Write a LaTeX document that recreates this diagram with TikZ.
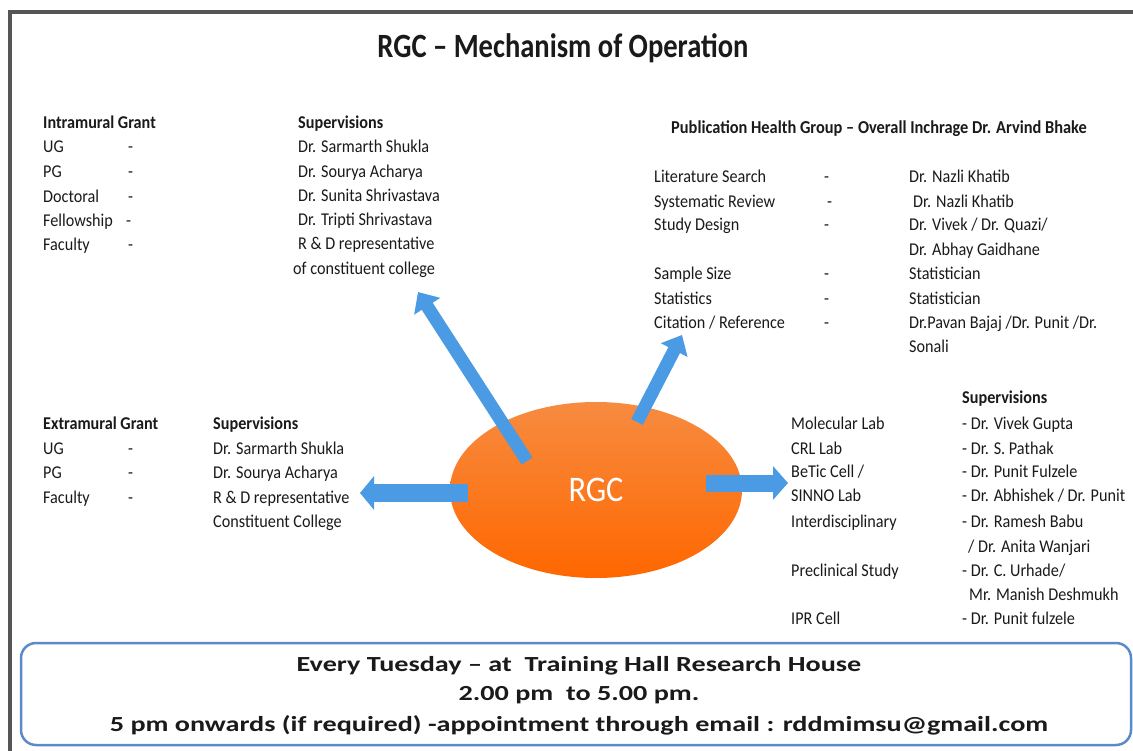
\documentclass[tikz,border=0pt]{standalone}
\usepackage{fontspec}
\setmainfont{Carlito}[FakeStretch=0.9]
\newfontfamily\footfont{Carlito}[FakeStretch=1.31,Ligatures=TeX]
\newfontfamily\titlefont{Carlito}[FakeStretch=0.84,Ligatures=TeX]
\usetikzlibrary{arrows.meta,shapes.geometric}
\definecolor{arrowblue}{HTML}{4A9BE3}
\definecolor{boxblue}{HTML}{5B8AC8}
\definecolor{framegray}{HTML}{555555}
\definecolor{orangeT}{HTML}{F78B40}
\definecolor{orangeB}{HTML}{FF6700}
\definecolor{ink}{HTML}{1A1A1A}
\begin{document}
\begin{tikzpicture}[x=1pt,y=-1pt,
  txt/.style={anchor=base west, inner sep=0pt, text=ink, font=\fontsize{18}{22}\selectfont},
  hd/.style={txt, font=\fontsize{18}{22}\selectfont\bfseries},
  foot/.style={anchor=base, inner sep=0pt, text=ink, font=\footfont\fontsize{21.5}{26}\selectfont\bfseries},
  barrow/.style args={#1/#2/#3}{draw=arrowblue, line width=#1pt, -{Triangle[width=#2pt,length=#3pt]}}]
\useasboundingbox (0,0) rectangle (1133,751);
\fill[white] (0,0) rectangle (1133,751);
% frame
\draw[framegray, line width=4pt] (10,751) -- (10,12) -- (1133,12);
% title
\node[anchor=base, inner sep=0pt, text=ink, font=\titlefont\fontsize{34}{38}\selectfont\bfseries] (title) at (563,58) {RGC – Mechanism of Operation};

% Intramural
\node[hd] (ig) at (43,129) {Intramural Grant};
\node[txt] (ug1) at (43,153) {UG};
\node[txt] (pg1) at (43,178) {PG};
\node[txt] (doc1) at (43,203) {Doctoral};
\node[txt] (fel1) at (43,227) {Fellowship};
\node[txt] (fac1) at (43,251) {Faculty};
\node[txt] (d1) at (128,153) {-};
\node[txt] (d2) at (128,178) {-};
\node[txt] (d3) at (128,203) {-};
\node[txt] (d4) at (126,227) {-};
\node[txt] (d5) at (128,251) {-};
\node[hd] (sup1) at (298,129) {Supervisions};
\node[txt] (s11) at (298,153) {Dr. Sarmarth Shukla};
\node[txt] (s12) at (298,178) {Dr. Sourya Acharya};
\node[txt] (s13) at (298,202) {Dr. Sunita Shrivastava};
\node[txt] (s14) at (298,226) {Dr. Tripti Shrivastava};
\node[txt] (s15) at (298,250) {R \& D representative};
\node[txt] (s16) at (293,275) {of constituent college};

% Publication
\node[hd, font=\fontsize{18.2}{22}\selectfont\bfseries] (pub) at (671,134) {Publication Health Group – Overall Inchrage Dr. Arvind Bhake};
\node[txt] (p1) at (654,183) {Literature Search};
\node[txt] (p2) at (654,208) {Systematic Review};
\node[txt] (p3) at (654,231) {Study Design};
\node[txt] (p4) at (654,280) {Sample Size};
\node[txt] (p5) at (654,305) {Statistics};
\node[txt] (p6) at (654,329) {Citation / Reference};
\node[txt] (pd1) at (824,183) {-};
\node[txt] (pd2) at (827,208) {-};
\node[txt] (pd3) at (824,231) {-};
\node[txt] (pd4) at (824,280) {-};
\node[txt] (pd5) at (824,305) {-};
\node[txt] (pd6) at (824,329) {-};
\node[txt] (q1) at (909,183) {Dr. Nazli Khatib};
\node[txt] (q2) at (913,208) {Dr. Nazli Khatib};
\node[txt] (q3) at (909,231) {Dr. Vivek / Dr. Quazi/};
\node[txt] (q3b) at (909,256) {Dr. Abhay Gaidhane};
\node[txt] (q4) at (909,280) {Statistician};
\node[txt] (q5) at (909,305) {Statistician};
\node[txt] (q6) at (909,329) {Dr.Pavan Bajaj /Dr. Punit /Dr.};
\node[txt] (q6b) at (909,353) {Sonali};

% Extramural
\node[hd] (eg) at (43,429) {Extramural Grant};
\node[hd] (sup2) at (213,429) {Supervisions};
\node[txt] (ug2) at (43,454) {UG};
\node[txt] (pg2) at (43,478) {PG};
\node[txt] (fac2) at (43,503) {Faculty};
\node[txt] (e1) at (128,454) {-};
\node[txt] (e2) at (128,478) {-};
\node[txt] (e3) at (128,503) {-};
\node[txt] (s21) at (213,454) {Dr. Sarmarth Shukla};
\node[txt] (s22) at (213,478) {Dr. Sourya Acharya};
\node[txt] (s23) at (213,503) {R \& D representative};
\node[txt] (s24) at (213,527) {Constituent College};

% Labs
\node[hd] (sup3) at (962,403) {Supervisions};
\node[txt] (l1) at (791,429) {Molecular Lab};
\node[txt] (l2) at (791,454) {CRL Lab};
\node[txt] (l3) at (791,477) {BeTic Cell /};
\node[txt] (l4) at (791,501) {SINNO Lab};
\node[txt] (l5) at (791,527) {Interdisciplinary};
\node[txt] (l6) at (791,576) {Preclinical Study};
\node[txt] (l7) at (791,624) {IPR Cell};
\node[txt] (m1) at (962,429) {- Dr. Vivek Gupta};
\node[txt] (m2) at (962,454) {- Dr. S. Pathak};
\node[txt] (m3) at (962,477) {- Dr. Punit Fulzele};
\node[txt] (m4) at (962,501) {- Dr. Abhishek / Dr. Punit};
\node[txt] (m5) at (962,527) {- Dr. Ramesh Babu};
\node[txt] (m5b) at (968,552) {/ Dr. Anita Wanjari};
\node[txt] (m6) at (962,576) {- Dr. C. Urhade/};
\node[txt] (m6b) at (969,600) {Mr. Manish Deshmukh};
\node[txt] (m7) at (962,624) {- Dr. Punit fulzele};

% RGC ellipse
\node[ellipse, minimum width=292pt, minimum height=176pt, inner sep=0pt,
      top color=orangeT, bottom color=orangeB, text=white,
      font=\fontsize{36}{40}\selectfont] (rgc) at (596,490) {RGC};

% arrows
\coordinate (a1s) at (527,461);
\coordinate (a1e) at (418,292);
\coordinate (a2s) at (637,422);
\coordinate (a2e) at (682,335);
\coordinate (a3s) at (468,493);
\coordinate (a3e) at (360,493);
\coordinate (a4s) at (706,483);
\coordinate (a4e) at (788,483);
\draw[barrow=13/30/17] (a1s) -- (a1e);
\draw[barrow=13/29/17] (a2s) -- (a2e);
\draw[barrow=18/33/14] (a3s) -- (a3e);
\draw[barrow=17/33/15] (a4s) -- (a4e);

% bottom box
\draw[boxblue, line width=2.5pt, rounded corners=15pt] (21,643) rectangle (1131,745);
\node[foot] (f1) at (579,671) {Every Tuesday – at~ Training Hall Research House};
\node[foot] (f2) at (579,700) {2.00 pm~ to 5.00 pm.};
\node[foot] (f3) at (579,731) {5 pm onwards (if required) -appointment through email : rddmimsu@gmail.com};
\end{tikzpicture}
\end{document}
